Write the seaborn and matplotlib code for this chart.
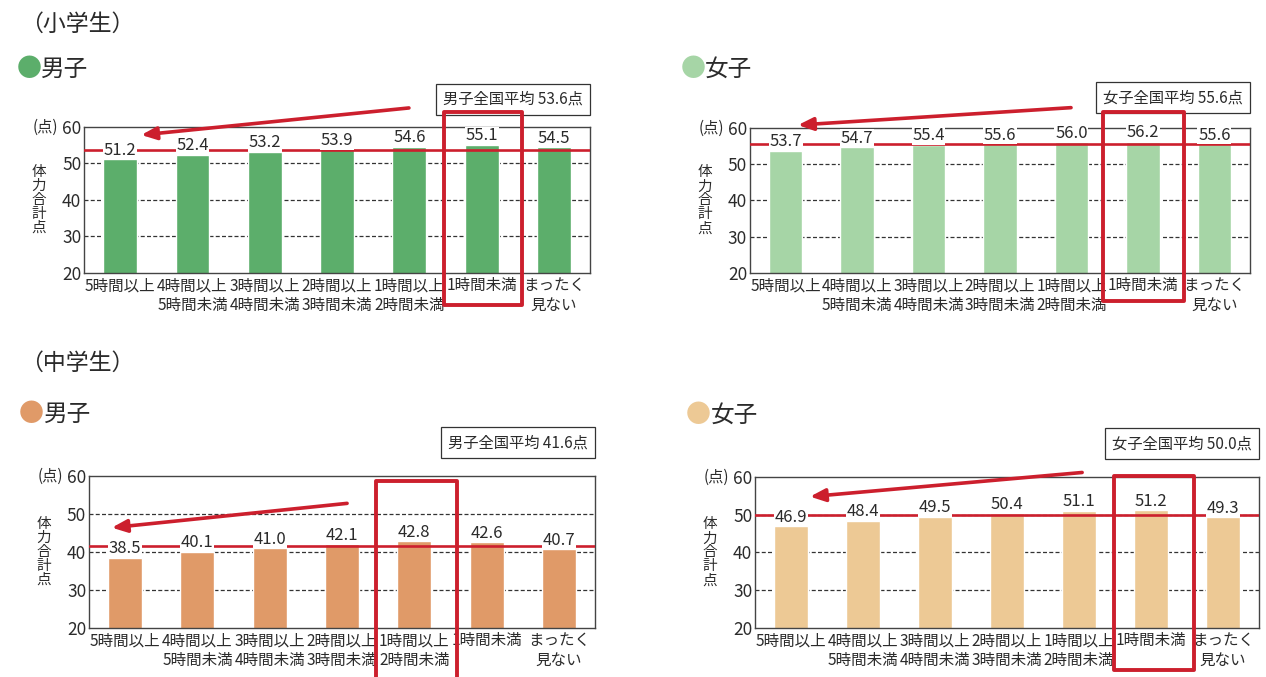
import matplotlib
matplotlib.use("Agg")
import matplotlib.pyplot as plt
import matplotlib.transforms as mtransforms
from matplotlib.patches import Rectangle
import pandas as pd
import seaborn as sns

# テレビ・ゲーム等の視聴時間と体力合計点
categories = ["5時間以上", "4時間以上\n5時間未満", "3時間以上\n4時間未満",
              "2時間以上\n3時間未満", "1時間以上\n2時間未満", "1時間未満",
              "まったく\n見ない"]

elem_boys = [51.2, 52.4, 53.2, 53.9, 54.6, 55.1, 54.5]
elem_girls = [53.7, 54.7, 55.4, 55.6, 56.0, 56.2, 55.6]
jh_boys = [38.5, 40.1, 41.0, 42.1, 42.8, 42.6, 40.7]
jh_girls = [46.9, 48.4, 49.5, 50.4, 51.1, 51.2, 49.3]

elem_boys_avg = 53.6
elem_girls_avg = 55.6
jh_boys_avg = 41.6
jh_girls_avg = 50.0

y_ticks = [20, 30, 40, 50, 60]

RED = "#cc1f2d"
GREEN = "#5cae6b"
LIGHT_GREEN = "#a6d5a6"
ORANGE = "#e09a68"
BEIGE = "#edc995"
TEXT = "#2b2b2b"

sns.set_style("white")
plt.rcParams['font.family'] = ['Noto Sans CJK JP', 'DejaVu Sans']


def draw_panel(ax, values, color, avg, avg_label, hl_x, hl_y, arrow_tail, arrow_head, box_y):
    df = pd.DataFrame({"cat": categories, "score": values})

    # dashed grid behind the bars
    for g in y_ticks[1:-1]:
        ax.axhline(g, color="#333333", lw=0.9, ls=(0, (3.2, 1.8)), zorder=0.5)

    sns.barplot(data=df, x="cat", y="score", color=color, width=0.47,
                saturation=1, ax=ax, zorder=2)

    # national average
    ax.axhline(avg, color=RED, lw=1.9, zorder=3)

    for i, v in enumerate(values):
        ax.text(i, v + 0.1, f"{v:.1f}", ha="center", va="bottom", fontsize=12,
                color=TEXT, zorder=4, bbox=dict(fc="white", ec="none", pad=0.5))

    ax.set_ylim(20, 60)
    ax.set_xlim(-0.5, len(categories) - 0.5)
    ax.set_yticks(y_ticks)
    ax.set_xlabel("")
    ax.set_ylabel("")
    ax.tick_params(axis="y", length=0, pad=2, labelsize=12.5, labelcolor=TEXT)
    ax.tick_params(axis="x", length=0, pad=3, labelsize=11.2, labelcolor=TEXT)
    for lab in ax.get_xticklabels():
        lab.set_linespacing(1.2)
    for s in ax.spines.values():
        s.set_visible(True)
        s.set_color("#444444")
        s.set_linewidth(1.0)

    ax.text(-0.052, 1.0, "(点)", transform=ax.transAxes, ha="right", va="center",
            fontsize=11, color=TEXT)
    ax.text(-0.09, 0.5, "体\n力\n合\n計\n点", transform=ax.transAxes, ha="center",
            va="center", fontsize=10.5, linespacing=1.0, color=TEXT)

    ax.text(0.986, box_y, avg_label, transform=ax.transAxes, ha="right", va="center",
            fontsize=11, color=TEXT, zorder=6,
            bbox=dict(boxstyle="square,pad=0.45", fc="white", ec="#333333", lw=0.9))

    ax.annotate("", xy=arrow_head, xytext=arrow_tail, xycoords="axes fraction",
                textcoords="axes fraction", annotation_clip=False,
                arrowprops=dict(arrowstyle="-|>,head_length=0.9,head_width=0.38",
                                color=RED, lw=2.6, shrinkA=0, shrinkB=0))

    trans = mtransforms.blended_transform_factory(ax.transData, ax.transAxes)
    ax.add_patch(Rectangle((hl_x[0], hl_y[0]), hl_x[1] - hl_x[0], hl_y[1] - hl_y[0],
                           transform=trans, fill=False, ec=RED, lw=2.8,
                           joinstyle="round", clip_on=False, zorder=7))


fig = plt.figure(figsize=(12.66, 6.77), dpi=100)
fig.patch.set_facecolor("white")

ax_tl = fig.add_axes([0.0664, 0.5968, 0.3997, 0.2157])
ax_tr = fig.add_axes([0.5924, 0.5968, 0.3950, 0.2142])
ax_bl = fig.add_axes([0.0703, 0.0724, 0.3997, 0.2245])
ax_br = fig.add_axes([0.5964, 0.0724, 0.3981, 0.2230])

draw_panel(ax_tl, elem_boys, GREEN, elem_boys_avg, "男子全国平均 53.6点",
           (4.48, 5.56), (-0.22, 1.10), (0.642, 1.13), (0.113, 0.945), 1.19)
draw_panel(ax_tr, elem_girls, LIGHT_GREEN, elem_girls_avg, "女子全国平均 55.6点",
           (4.44, 5.58), (-0.19, 1.11), (0.642, 1.14), (0.096, 1.02), 1.21)
draw_panel(ax_bl, jh_boys, ORANGE, jh_boys_avg, "男子全国平均 41.6点",
           (3.47, 4.59), (-0.6, 0.97), (0.51, 0.82), (0.045, 0.66), 1.22)
draw_panel(ax_br, jh_girls, BEIGE, jh_girls_avg, "女子全国平均 50.0点",
           (4.49, 5.60), (-0.28, 1.01), (0.649, 1.03), (0.109, 0.87), 1.22)

# section headers
fig.text(0.016, 0.9645, "（小学生）", fontsize=16.5, color=TEXT, va="center")
fig.text(0.016, 0.464, "（中学生）", fontsize=16.5, color=TEXT, va="center")

headers = [(0.0135, 0.0325, 0.898, GREEN, "男子"),
           (0.5375, 0.5567, 0.898, LIGHT_GREEN, "女子"),
           (0.0150, 0.0346, 0.3885, ORANGE, "男子"),
           (0.5420, 0.5615, 0.387, BEIGE, "女子")]
for xd, xt, yy, c, t in headers:
    fig.text(xd, yy, "●", fontsize=18, color=c, va="center")
    fig.text(xt, yy, t, fontsize=17, color=TEXT, va="center")

fig.savefig("out.png", dpi=100, facecolor="white")
